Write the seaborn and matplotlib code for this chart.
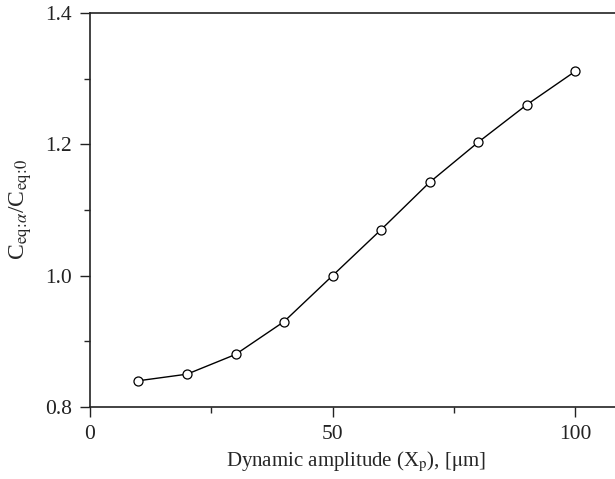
import matplotlib
matplotlib.use("Agg")
import matplotlib.pyplot as plt
import seaborn as sns
import pandas as pd
from matplotlib.ticker import MultipleLocator

amplitude = [10, 20, 30, 40, 50, 60, 70, 80, 90, 100]
ratio = [0.84, 0.85, 0.88, 0.93, 1.00, 1.07, 1.142, 1.203, 1.26, 1.311]
x_ticks = [0, 50, 100]
y_ticks = [0.8, 1.0, 1.2, 1.4]

sns.set_theme(style="ticks")
plt.rcParams['font.family'] = ['Liberation Serif', 'DejaVu Serif']
plt.rcParams['mathtext.fontset'] = 'stix'

df = pd.DataFrame({"x": amplitude, "y": ratio})

fig = plt.figure(figsize=(6.15, 4.79), dpi=100)
ax = fig.add_axes([0.1463, 0.1503, 0.8637, 0.8226])
sns.lineplot(data=df, x="x", y="y", ax=ax, color="black", linewidth=1.0,
             marker="o", markersize=6.5, markerfacecolor="white",
             markeredgecolor="black", markeredgewidth=0.9)

ax.set_xlim(0, 109.5)
ax.set_ylim(0.8, 1.4)
ax.set_xticks(x_ticks)
ax.set_yticks(y_ticks)
ax.set_yticklabels([f"{v:.1f}" for v in y_ticks])
ax.xaxis.set_minor_locator(MultipleLocator(25))
ax.yaxis.set_minor_locator(MultipleLocator(0.1))
ax.tick_params(axis="both", which="major", direction="out", length=7, width=1,
               labelsize=15.5, colors="#222222", pad=6)
ax.tick_params(axis="both", which="minor", direction="out", length=4, width=1)
for side in ["left", "bottom", "top"]:
    ax.spines[side].set_color("#222222")
    ax.spines[side].set_linewidth(1.2)
ax.spines["right"].set_visible(False)

ax.set_xlabel(r"Dynamic amplitude (X$_\mathrm{p}$), [$\mathrm{\mu}$m]", fontsize=15, labelpad=4)
ax.set_ylabel(r"C$_{\mathrm{eq}\!:\!\mathit{\alpha}}$/C$_{\mathrm{eq}\!:\!0}$", fontsize=17, labelpad=8)

fig.savefig("out.png", dpi=100)
